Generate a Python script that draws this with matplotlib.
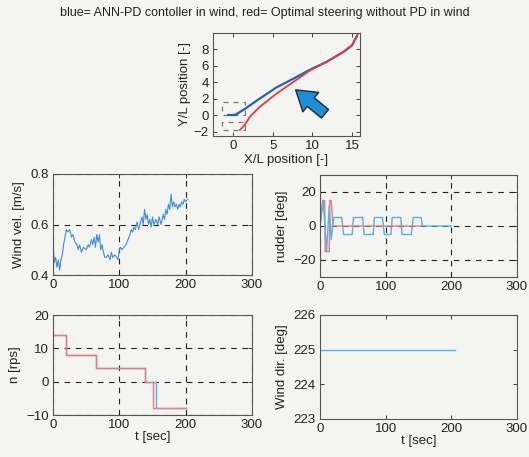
import numpy as np
import matplotlib
matplotlib.use('Agg')
from matplotlib import pyplot as plt

plt.rcParams['font.family'] = ['Liberation Sans', 'DejaVu Sans']

# trajectories (X/L, Y/L)
blue_x = [-0.6, 0.25, 1.3, 3.4, 5.5, 7.6, 9.7, 11.8, 13.9, 15.0, 15.6]
blue_y = [0.05, 0.05, 0.65, 2.05, 3.4, 4.45, 5.55, 6.5, 7.7, 8.5, 9.6]
red_x = [0.9, 1.5, 2.15, 3.4, 5.5, 7.6, 9.7, 11.8, 13.9, 15.0, 15.6, 15.9]
red_y = [-1.76, -1.15, -0.15, 1.05, 2.65, 4.05, 5.45, 6.5, 7.7, 8.5, 9.7, 10.1]

# wind velocity
t_wind = [0, 2, 4, 6, 8, 10, 12, 14, 16, 18, 20, 22, 25, 28, 30, 33, 36, 38, 40, 43,
          46, 50, 53, 55, 58, 60, 62, 64, 66, 68, 70, 72, 74, 76, 78, 80, 83, 86, 88, 90,
          93, 96, 98, 100, 102, 104, 107, 110, 113, 116, 118, 120, 122, 124, 127, 129, 131, 134, 136, 138,
          140, 142, 144, 146, 148, 150, 152, 155, 158, 160, 163, 166, 168, 170, 172, 174, 176, 178, 180, 182,
          184, 186, 188, 190, 192, 194, 196, 198, 200, 203]
wind_vel = [0.52, 0.45, 0.47, 0.43, 0.46, 0.42, 0.46, 0.48, 0.52, 0.55, 0.58, 0.57, 0.58, 0.55, 0.56, 0.53, 0.52, 0.50, 0.52, 0.49,
            0.51, 0.50, 0.52, 0.51, 0.54, 0.52, 0.55, 0.51, 0.56, 0.53, 0.56, 0.50, 0.52, 0.49, 0.47, 0.47, 0.48, 0.46, 0.49, 0.47,
            0.48, 0.47, 0.46, 0.50, 0.51, 0.50, 0.51, 0.52, 0.54, 0.56, 0.58, 0.57, 0.59, 0.58, 0.61, 0.58, 0.60, 0.63, 0.60, 0.66,
            0.62, 0.64, 0.60, 0.62, 0.59, 0.63, 0.60, 0.62, 0.60, 0.63, 0.60, 0.64, 0.62, 0.66, 0.64, 0.68, 0.66, 0.72, 0.67, 0.69,
            0.67, 0.68, 0.66, 0.68, 0.67, 0.69, 0.68, 0.70, 0.69, 0.70]

# rudder
t_rud_b = [0, 5, 10, 14, 17, 21, 22, 33, 36, 49, 51, 65, 67, 81, 83, 95, 98, 108, 110, 123,
           125, 139, 142, 154, 156, 200]
rud_b = [0, 15, -15, 12, -8, 5, 5, 5, -5, -5, 5, 5, -5, -5, 5, 5, -5, -5, 5, 5,
         -5, -5, 5, 5, 0, 0]
t_rud_r = [0, 4, 7, 8, 14, 15, 17, 20, 155]
rud_r = [0, 15, 15, -15, -15, 15, 15, 0, 0]

# propeller rps
t_n_r = [0, 20, 20, 65, 65, 138, 138, 151, 151, 200]
n_r = [14, 14, 8, 8, 4, 4, 0, 0, -8, -8]
t_n_b = [0, 20, 20, 65, 65, 138, 138, 156, 156, 200]
n_b = [14, 14, 8, 8, 4, 4, 0, 0, -8, -8]

# wind direction
t_dir = [0, 205]
wind_dir = [225, 225]

bg = '#f4f4f1'
W, H = 529, 457
fig = plt.figure(figsize=(W / 100, H / 100), dpi=100, facecolor=bg)

def pos(l, r, t, b):
    return [l / W, 1 - b / H, (r - l) / W, (b - t) / H]

def style(ax, grid=True):
    ax.set_facecolor(bg)
    for s in ax.spines.values():
        s.set_color('#555555')
        s.set_linewidth(0.8)
    ax.tick_params(direction='in', top=True, right=True, labelsize=9.5,
                   colors='#222222', length=3, width=0.6, pad=3)
    if grid:
        ax.grid(True, color='#222222', linestyle=(0, (5, 5)), linewidth=0.8)

lblue = '#5aaee3'
lred = '#f07a7a'
lab = dict(fontsize=9.5, color='#222222')

# top: trajectories
ax0 = fig.add_axes(pos(213, 360, 33, 136))
style(ax0, grid=False)
for (x0, x1, y0, y1) in [(-1.4, 1.5, 0.05, 1.65), (-1.4, 1.5, -1.8, -0.75)]:
    ax0.plot([x1, x1, x0, x0, x1], [y0, y1, y1, y0, y0], color='#777777',
             linestyle=(0, (4, 4)), linewidth=0.9)
ax0.plot(blue_x, blue_y, color='#1f63b8', linewidth=1.6)
ax0.plot(red_x, red_y, color='#e83a3a', linewidth=1.3)
ax0.annotate('', xy=(7.9, 3.1), xytext=(11.6, 0.2),
             arrowprops=dict(arrowstyle='simple,head_length=0.7,head_width=0.9,tail_width=0.4',
                             mutation_scale=20, shrinkA=0, shrinkB=0,
                             fc='#1e8fd6', ec='#1a2a40', lw=1.0))
ax0.set_xlim(-2.5, 16)
ax0.set_ylim(-2.5, 10)
ax0.set_xticks([0, 5, 10, 15])
ax0.set_yticks([-2, 0, 2, 4, 6, 8])
ax0.set_xlabel('X/L position [-]', labelpad=1, **lab)
ax0.set_ylabel('Y/L position [-]', labelpad=2, **lab)
fig.text(265 / W, 1 - 13 / H, 'blue= ANN-PD contoller in wind, red= Optimal steering without PD in wind',
         ha='center', va='center', fontsize=9, color='#222222')

# wind velocity
ax1 = fig.add_axes(pos(53, 252, 174, 275))
style(ax1)
ax1.plot(t_wind, wind_vel, color='#3f8fd6', linewidth=0.8)
ax1.set_xlim(0, 300)
ax1.set_ylim(0.4, 0.8)
ax1.set_xticks([0, 100, 200, 300])
ax1.set_yticks([0.4, 0.6, 0.8])
ax1.set_ylabel('Wind vel. [m/s]', **lab)

# rudder
ax2 = fig.add_axes(pos(320, 517, 175, 277))
style(ax2)
ax2.plot(t_rud_r, rud_r, color=lred, linewidth=1.0)
ax2.plot(t_rud_b, rud_b, color=lblue, linewidth=1.0)
ax2.set_xlim(0, 300)
ax2.set_ylim(-30, 30)
ax2.set_xticks([0, 100, 200, 300])
ax2.set_yticks([-20, 0, 20])
ax2.set_ylabel('rudder [deg]', **lab)

# n
ax3 = fig.add_axes(pos(53, 252, 315, 415))
style(ax3)
ax3.plot(t_n_b, n_b, color=lblue, linewidth=1.0)
ax3.plot(t_n_r, n_r, color=lred, linewidth=1.0)
ax3.set_xlim(0, 300)
ax3.set_ylim(-10, 20)
ax3.set_xticks([0, 100, 200, 300])
ax3.set_yticks([-10, 0, 10, 20])
ax3.set_ylabel('n [rps]', **lab)
ax3.set_xlabel('t [sec]', labelpad=0, **lab)

# wind direction
ax4 = fig.add_axes(pos(320, 517, 315, 419))
style(ax4, grid=False)
ax4.plot(t_dir, wind_dir, color=lblue, linewidth=1.0)
ax4.set_xlim(0, 300)
ax4.set_ylim(223, 226)
ax4.set_xticks([0, 100, 200, 300])
ax4.set_yticks([223, 224, 225, 226])
ax4.set_ylabel('Wind dir. [deg]', **lab)
ax4.set_xlabel('t [sec]', labelpad=0, **lab)

plt.savefig('out.png', dpi=100, facecolor=bg)
